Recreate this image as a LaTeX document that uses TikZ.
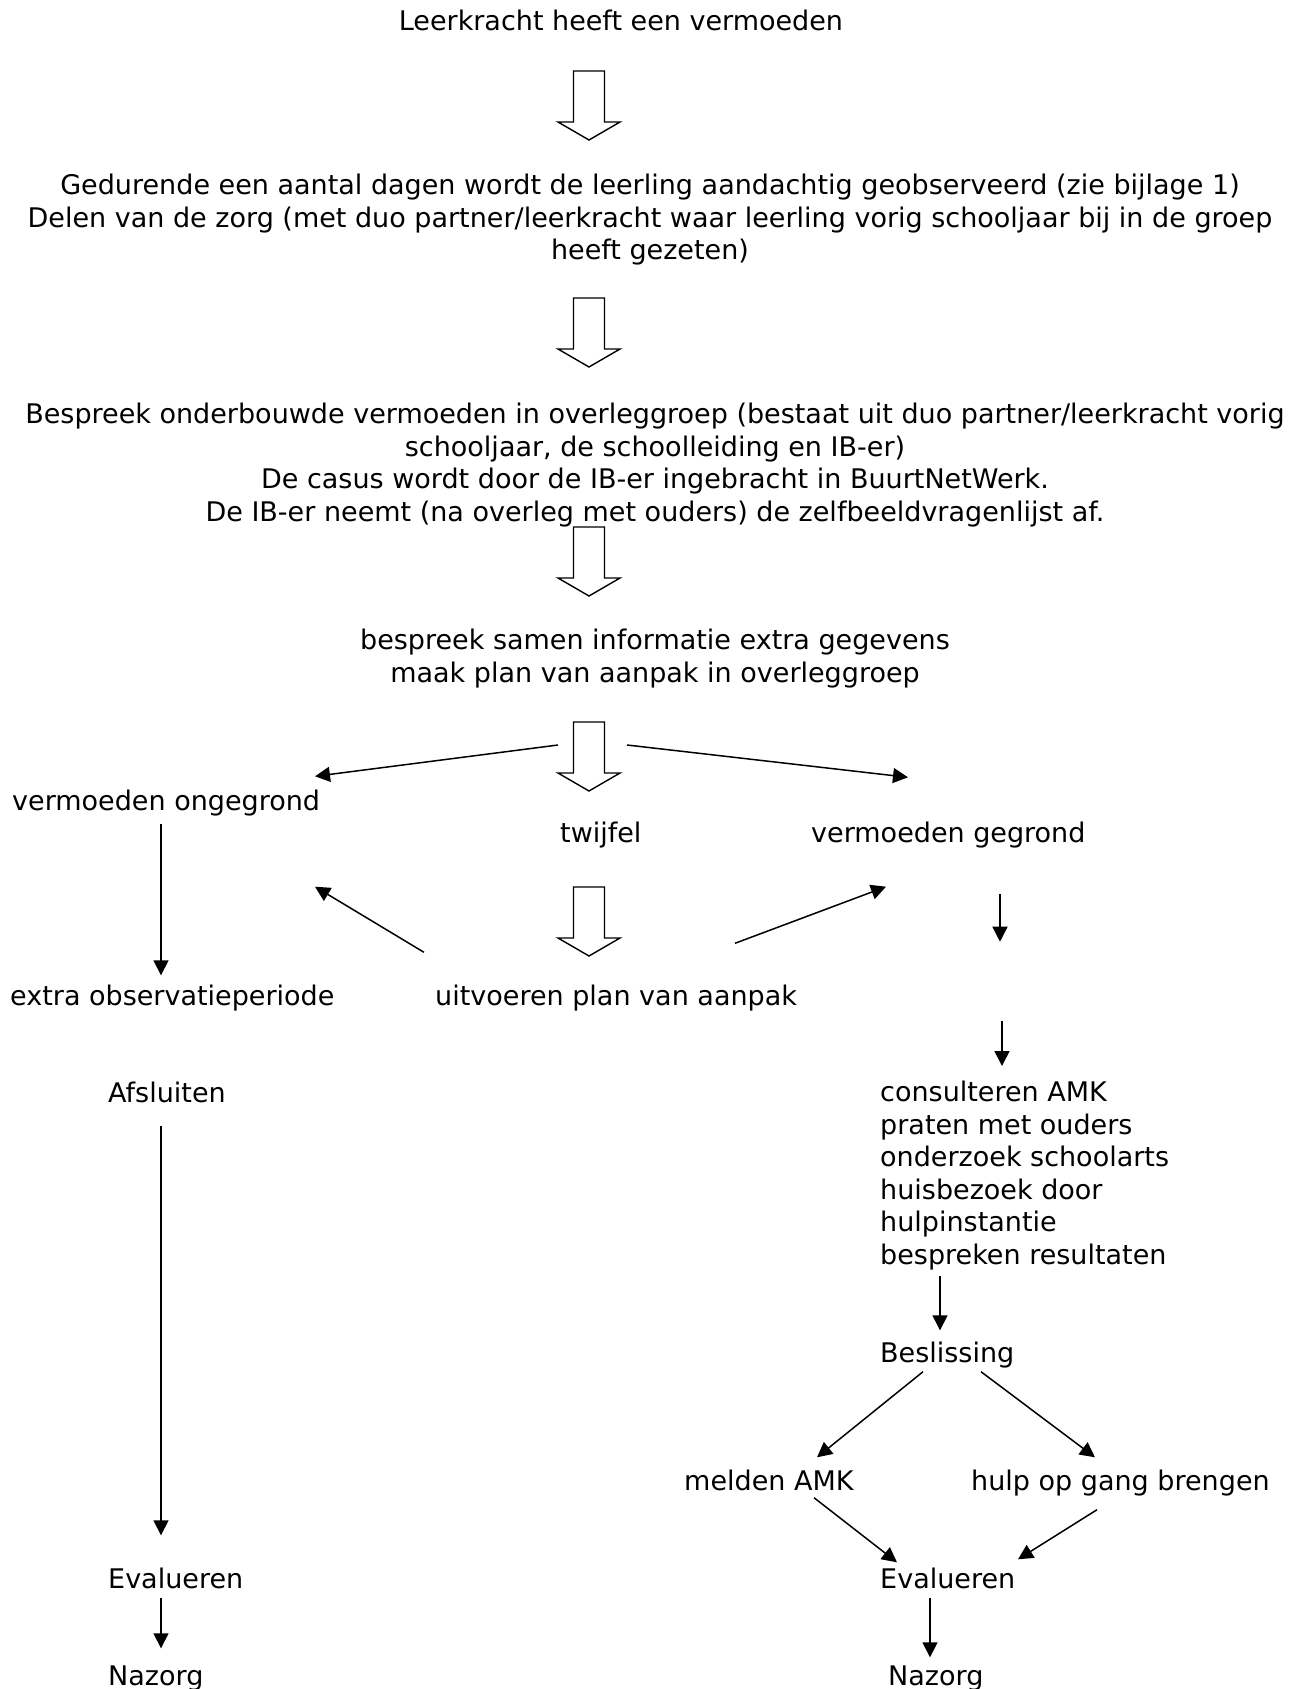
\documentclass[tikz,border=0pt]{standalone}
\usepackage{fontspec}
\setmainfont{DejaVu Sans}
\usetikzlibrary{arrows.meta}

\begin{document}
\begin{tikzpicture}[x=1pt,y=-1pt,
  font=\fontsize{27}{32.5}\selectfont,
  every node/.style={inner sep=0pt},
  regel/.style={anchor=west,text height=23.5pt,text depth=3.5pt},
  blok/.style={align=center,anchor=north},
  pijl/.style={line width=1.5pt,-{Triangle[length=15pt,width=15pt]}},
  holpijl/.pic={
    \draw[line width=1.4pt,line join=miter]
      (-15.5,0) -- (15.5,0) -- (15.5,51) -- (31,51) -- (0,69)
      -- (-31,51) -- (-15.5,51) -- cycle;
    \coordinate (-w) at (-31,23);
    \coordinate (-e) at (38,23);
  }]
\useasboundingbox (0,0) rectangle (1291,1689);

% middle column
\node[regel,anchor=center] (start) at (621,20) {Leerkracht heeft een vermoeden};
\node[blok] (observeren) at (650,174)
  {Gedurende een aantal dagen wordt de leerling aandachtig geobserveerd (zie bijlage 1)\\
   Delen van de zorg (met duo partner/leerkracht waar leerling vorig schooljaar bij in de groep\\
   heeft gezeten)};
\node[blok] (overleg) at (655,403)
  {Bespreek onderbouwde vermoeden in overleggroep (bestaat uit duo partner/leerkracht vorig\\
   schooljaar, de schoolleiding en IB-er)\\
   De casus wordt door de IB-er ingebracht in BuurtNetWerk.\\
   De IB-er neemt (na overleg met ouders) de zelfbeeldvragenlijst af.};
\node[blok] (plan) at (655,629)
  {bespreek samen informatie extra gegevens\\
   maak plan van aanpak in overleggroep};

\pic (p1) at (589,71) {holpijl};
\pic (p2) at (589,298) {holpijl};
\pic (p3) at (589,527) {holpijl};
\pic (p4) at (589,722) {holpijl};
\pic (p5) at (589,887) {holpijl};

\node[regel] (ongegrond) at (12,800) {vermoeden ongegrond};
\node[regel] (twijfel) at (560,832) {twijfel};
\node[regel] (gegrond) at (811,832) {vermoeden gegrond};
\node[regel] (extraobs) at (10,995) {extra observatieperiode};
\node[regel] (uitvoeren) at (435,995) {uitvoeren plan van aanpak};

% left column
\node[regel] (afsluiten) at (108,1092) {Afsluiten};
\node[regel] (evalL) at (108,1578) {Evalueren};
\node[regel] (nazorgL) at (108,1675) {Nazorg};

% right column
\node[align=left,anchor=north west] (consult) at (880,1081)
  {consulteren AMK\\ praten met ouders\\ onderzoek schoolarts\\
   huisbezoek door\\ hulpinstantie\\ bespreken resultaten};
\node[regel] (beslissing) at (880,1352) {Beslissing};
\node[regel] (melden) at (684,1480) {melden AMK};
\node[regel] (hulp) at (971,1480) {hulp op gang brengen};
\node[regel] (evalR) at (880,1578) {Evalueren};
\node[regel] (nazorgR) at (888,1675) {Nazorg};

% connectors
\draw[pijl] (p4-w) -- ([shift={(303,-10)}]ongegrond.north west);
\draw[pijl] (p4-e) -- ([shift={(97,-41)}]gegrond.north west);
\draw[pijl] ([shift={(149,10)}]ongegrond.south west) -- ([shift={(151,-6)}]extraobs.north west);
\draw[pijl] ([shift={(-11,-29)}]uitvoeren.north west) -- ([shift={(303,73)}]ongegrond.south west);
\draw[pijl] ([shift={(300,-38)}]uitvoeren.north west) -- ([shift={(75,41)}]gegrond.south west);
\draw[pijl] ([shift={(189,48)}]gegrond.south west) -- ([shift={(189,96)}]gegrond.south west);
\draw[pijl] ([shift={(122,-60)}]consult.north west) -- ([shift={(122,-15)}]consult.north west);
\draw[pijl] ([shift={(60,6)}]consult.south west) -- ([shift={(60,-8)}]beslissing.north west);
\draw[pijl] ([shift={(53,20)}]afsluiten.south west) -- ([shift={(53,-29)}]evalL.north west);
\draw[pijl] ([shift={(53,6)}]evalL.south west) -- ([shift={(53,-13)}]nazorgL.north west);
\draw[pijl] ([shift={(43,6)}]beslissing.south west) -- ([shift={(133,-9)}]melden.north west);
\draw[pijl] ([shift={(101,6)}]beslissing.south west) -- ([shift={(124,-9)}]hulp.north west);
\draw[pijl] ([shift={(130,4)}]melden.south west) -- ([shift={(17,-2)}]evalR.north west);
\draw[pijl] ([shift={(126,16)}]hulp.south west) -- ([shift={(138,-5)}]evalR.north west);
\draw[pijl] ([shift={(50,6)}]evalR.south west) -- ([shift={(42,-4)}]nazorgR.north west);
\end{tikzpicture}
\end{document}
